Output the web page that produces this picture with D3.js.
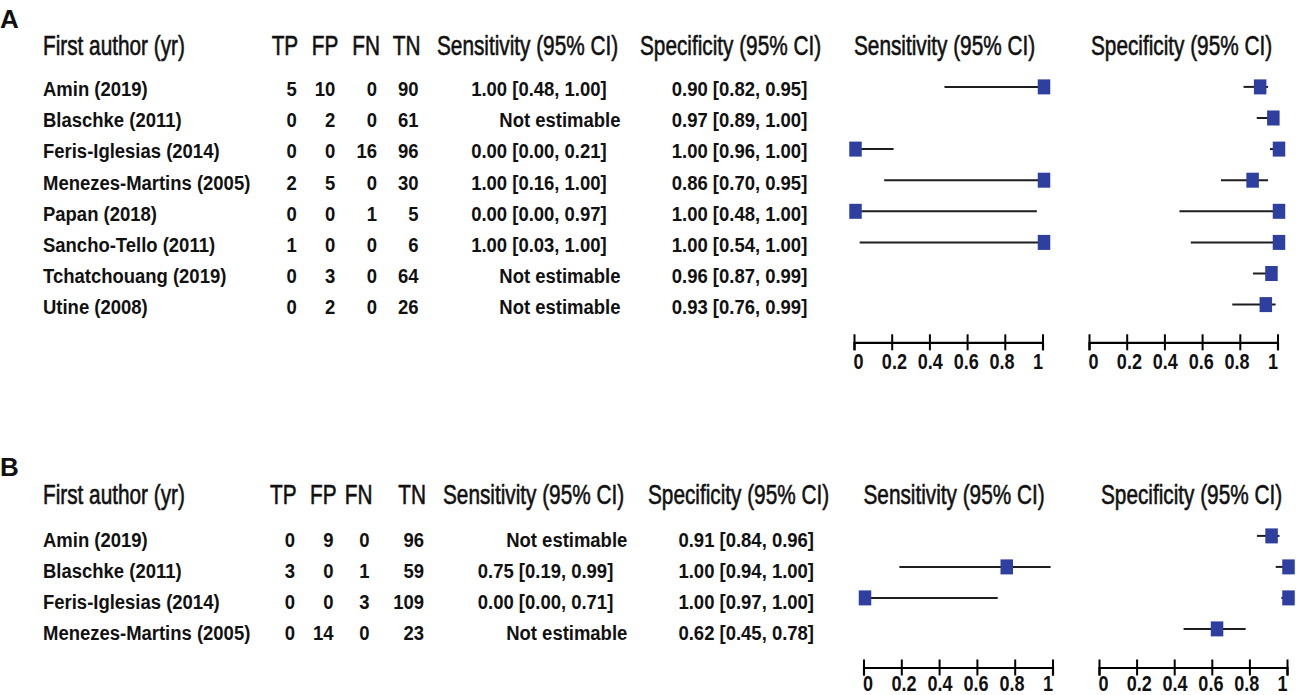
<!DOCTYPE html>
<html>
<head>
<meta charset="utf-8">
<script src="https://cdn.jsdelivr.net/npm/d3@7/dist/d3.min.js"></script>
<style>
  html, body { margin: 0; padding: 0; background: #fff; }
  svg { display: block; }
  text { font-family: "Liberation Sans", Arial, Helvetica, sans-serif; fill: #111; }
</style>
</head>
<body>
<svg id="chart" width="1296" height="695"></svg>
<script>
// ---------------- DATA ----------------
const tickValues = [0, 0.2, 0.4, 0.6, 0.8, 1];
const headerCols = ["First author (yr)", "TP", "FP", "FN", "TN", "Sensitivity (95% CI)", "Specificity (95% CI)"];
const notEstimable = "Not estimable";

// Panel A
const studiesA = ["Amin (2019)", "Blaschke (2011)", "Feris-Iglesias (2014)", "Menezes-Martins (2005)",
                  "Papan (2018)", "Sancho-Tello (2011)", "Tchatchouang (2019)", "Utine (2008)"];
const tpA = [5, 0, 0, 2, 0, 1, 0, 0];
const fpA = [10, 2, 0, 5, 0, 0, 3, 2];
const fnA = [0, 0, 16, 0, 1, 0, 0, 0];
const tnA = [90, 61, 96, 30, 5, 6, 64, 26];
const sensA   = [1.00, null, 0.00, 1.00, 0.00, 1.00, null, null];
const sensLoA = [0.48, null, 0.00, 0.16, 0.00, 0.03, null, null];
const sensHiA = [1.00, null, 0.21, 1.00, 0.97, 1.00, null, null];
const specA   = [0.90, 0.97, 1.00, 0.86, 1.00, 1.00, 0.96, 0.93];
const specLoA = [0.82, 0.89, 0.96, 0.70, 0.48, 0.54, 0.87, 0.76];
const specHiA = [0.95, 1.00, 1.00, 0.95, 1.00, 1.00, 0.99, 0.99];

// Panel B
const studiesB = ["Amin (2019)", "Blaschke (2011)", "Feris-Iglesias (2014)", "Menezes-Martins (2005)"];
const tpB = [0, 3, 0, 0];
const fpB = [9, 0, 0, 14];
const fnB = [0, 1, 3, 0];
const tnB = [96, 59, 109, 23];
const sensB   = [null, 0.75, 0.00, null];
const sensLoB = [null, 0.19, 0.00, null];
const sensHiB = [null, 0.99, 0.71, null];
const specB   = [0.91, 1.00, 1.00, 0.62];
const specLoB = [0.84, 0.94, 0.97, 0.45];
const specHiB = [0.96, 1.00, 1.00, 0.78];

// ---------------- LAYOUT ----------------
const svg = d3.select("#chart");
const FONT_ROW = 21, ROW_SX = 0.88;
const FONT_HEAD = 27.5, HEAD_SX = 0.755;
const FONT_TICK = 22, TICK_SX = 0.82;
const BLUE = "#2f3f9f";

const panels = [
  {
    label: "A", labelY: 28, headY: 55, row0: 96.2, step: 31.1, sqOff: 9.3, axisY: 342.3, tickLabelDy: 27,
    nameX: 43, tpX: 296.7, fpX: 335.3, fnX: 377, tnX: 418.5,
    sensHeadX: 437, specHeadX: 640, sensValX: 606.7, neX: 620.4, specValX: 807.3,
    sensRange: [854, 1042.5], specRange: [1089, 1277.5],
    studies: studiesA, tp: tpA, fp: fpA, fn: fnA, tn: tnA,
    sens: sensA, sensLo: sensLoA, sensHi: sensHiA, spec: specA, specLo: specLoA, specHi: specHiA
  },
  {
    label: "B", labelY: 476, headY: 504, row0: 546.5, step: 31, sqOff: 10.6, axisY: 667.5, tickLabelDy: 23,
    nameX: 43, tpX: 295, fpX: 333.5, fnX: 369.5, tnX: 424,
    sensHeadX: 443, specHeadX: 648, sensValX: 613.3, neX: 627.3, specValX: 814,
    sensRange: [863.5, 1052.5], specRange: [1099, 1287],
    studies: studiesB, tp: tpB, fp: fpB, fn: fnB, tn: tnB,
    sens: sensB, sensLo: sensLoB, sensHi: sensHiB, spec: specB, specLo: specLoB, specHi: specHiB
  }
];

function txt(g, x, y, s, opt) {
  const o = Object.assign({ size: FONT_ROW, weight: "bold", anchor: "start", sx: ROW_SX, stroke: 0 }, opt || {});
  const t = g.append("text")
    .attr("transform", `translate(${x},${y}) scale(${o.sx},1)`)
    .attr("text-anchor", o.anchor)
    .style("font-size", o.size + "px")
    .style("font-weight", o.weight)
    .text(s);
  if (o.stroke) t.attr("stroke", "#111").attr("stroke-width", o.stroke);
  return t;
}
const f2 = d3.format(".2f");
const ci = (v, lo, hi) => v == null ? notEstimable : `${f2(v)} [${f2(lo)}, ${f2(hi)}]`;

panels.forEach(p => {
  const g = svg.append("g");
  // panel letter
  txt(g, 0, p.labelY, p.label, { size: 26, weight: "bold", sx: 1 });

  // headers
  const hs = { size: FONT_HEAD, weight: "normal", sx: HEAD_SX, stroke: 0.6 };
  txt(g, p.nameX, p.headY, headerCols[0], hs);
  txt(g, p.tpX + 1.5, p.headY, headerCols[1], Object.assign({ anchor: "end" }, hs));
  txt(g, p.fpX + 3, p.headY, headerCols[2], Object.assign({ anchor: "end" }, hs));
  txt(g, p.fnX + 3, p.headY, headerCols[3], Object.assign({ anchor: "end" }, hs));
  txt(g, p.tnX + 2, p.headY, headerCols[4], Object.assign({ anchor: "end" }, hs));
  txt(g, p.sensHeadX, p.headY, headerCols[5], hs);
  txt(g, p.specHeadX, p.headY, headerCols[6], hs);
  // plot headers
  txt(g, p.sensRange[0], p.headY, headerCols[5], hs);
  txt(g, p.specRange[0] + 2, p.headY, headerCols[6], hs);

  const yText = i => p.row0 + i * p.step;
  const yMark = i => yText(i) - p.sqOff;

  // table rows
  p.studies.forEach((name, i) => {
    const y = yText(i);
    txt(g, p.nameX, y, name);
    txt(g, p.tpX, y, String(p.tp[i]), { anchor: "end" });
    txt(g, p.fpX, y, String(p.fp[i]), { anchor: "end" });
    txt(g, p.fnX, y, String(p.fn[i]), { anchor: "end" });
    txt(g, p.tnX, y, String(p.tn[i]), { anchor: "end" });
    const sv = ci(p.sens[i], p.sensLo[i], p.sensHi[i]);
    txt(g, p.sens[i] == null ? p.neX : p.sensValX, y, sv, { anchor: "end" });
    txt(g, p.specValX, y, ci(p.spec[i], p.specLo[i], p.specHi[i]), { anchor: "end" });
  });

  // forest plots
  const plots = [
    { range: p.sensRange, v: p.sens, lo: p.sensLo, hi: p.sensHi },
    { range: p.specRange, v: p.spec, lo: p.specLo, hi: p.specHi }
  ];
  plots.forEach(pl => {
    const x = d3.scaleLinear().domain([0, 1]).range(pl.range);
    const idx = d3.range(p.studies.length).filter(i => pl.v[i] != null);
    const pg = g.append("g");
    pg.selectAll("line.ci").data(idx).join("line")
      .attr("class", "ci")
      .attr("x1", i => x(pl.lo[i])).attr("x2", i => x(pl.hi[i]))
      .attr("y1", i => yMark(i)).attr("y2", i => yMark(i))
      .attr("stroke", "#1e1e1e").attr("stroke-width", 2);
    const W = 12.5, H = 15;
    pg.selectAll("rect.pt").data(idx).join("rect")
      .attr("class", "pt")
      .attr("x", i => x(pl.v[i]) + 1.5 - W / 2)
      .attr("y", i => yMark(i) - H / 2)
      .attr("width", W).attr("height", H)
      .attr("fill", BLUE);

    // axis
    const axis = d3.axisBottom(x).tickValues(tickValues).tickFormat(d3.format("~g")).tickSizeOuter(0).tickSize(8);
    const ag = g.append("g").attr("transform", `translate(0,${p.axisY})`).call(axis);
    ag.select(".domain").attr("stroke", "#000").attr("stroke-width", 2.2);
    ag.selectAll(".tick line").attr("y1", -8).attr("y2", 8).attr("stroke", "#000").attr("stroke-width", 2);
    ag.selectAll(".tick text")
      .attr("y", null).attr("dy", null)
      .attr("transform", d => `translate(${4 - 9 * d},${p.tickLabelDy}) scale(${TICK_SX},1)`)
      .attr("fill", "#111")
      .style("font-family", '"Liberation Sans", Arial, sans-serif')
      .style("font-size", FONT_TICK + "px")
      .style("font-weight", "bold");
  });
});
</script>
</body>
</html>
